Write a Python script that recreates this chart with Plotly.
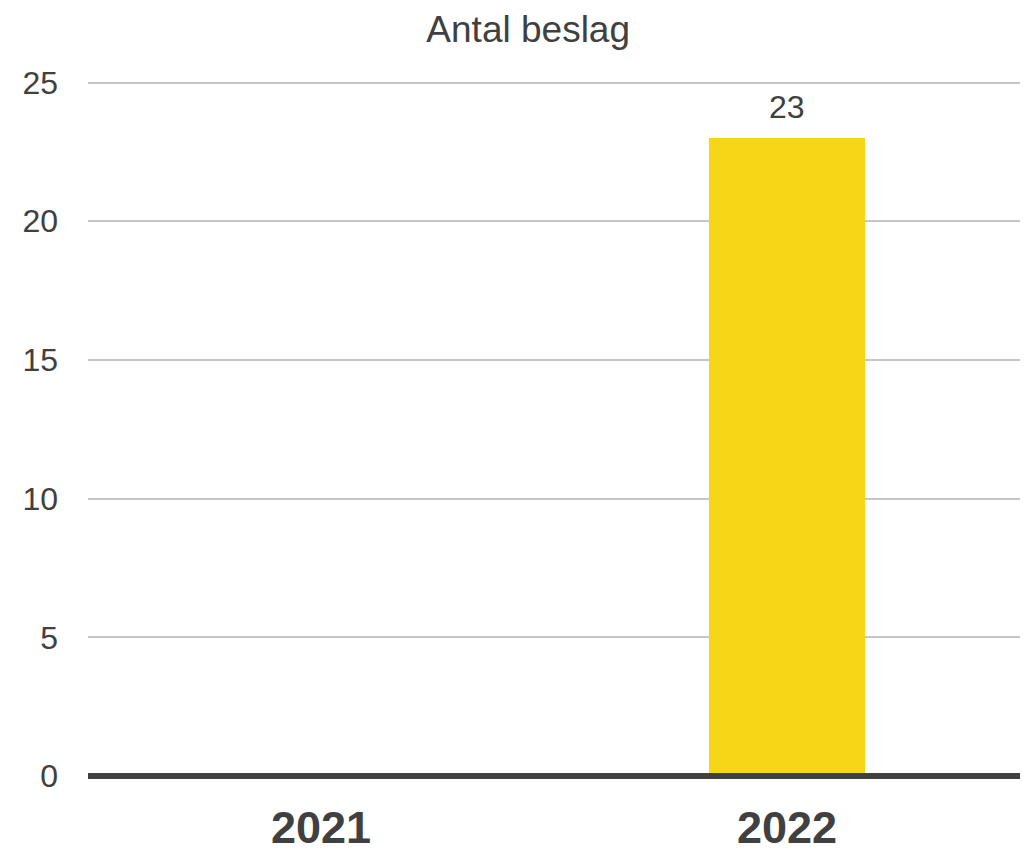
import plotly.graph_objects as go

categories = ["2021", "2022"]
values = [0, 23]
y_ticks = [0, 5, 10, 15, 20, 25]

FONT = "Liberation Sans, Arial, sans-serif"
TXT = "#404040"

fig = go.Figure()
fig.add_trace(go.Bar(
    x=categories, y=values,
    marker=dict(color="#F7D517", line=dict(width=0)),
    cliponaxis=False,
))
for i, v in enumerate(values):
    if v:
        fig.add_annotation(x=i, y=v, xref="x", yref="y", text=str(v), showarrow=False,
                           yanchor="bottom", yshift=11,
                           font=dict(family=FONT, size=32, color=TXT))
# page has an 8px body margin, so the figure is 1020x845 placed at (8, 8)
fig.update_layout(
    width=1020, height=845,
    margin=dict(l=80, r=8, t=69, b=77),
    paper_bgcolor="white", plot_bgcolor="white",
    bargap=0.665,
    showlegend=False,
    title=dict(text="Antal beslag", x=0.51, xanchor="center", y=0.975, yanchor="middle",
               font=dict(family=FONT, size=37, color=TXT)),
    font=dict(family=FONT, color=TXT),
)
fig.update_yaxes(range=[0, 25.2], tickvals=y_ticks, showgrid=True, gridcolor="#C6C6C6", gridwidth=2,
                 zeroline=False, showline=False, ticks="", automargin=False,
                 tickfont=dict(size=32, color=TXT), ticklabelstandoff=29)
fig.update_xaxes(type="category", range=[-0.5, len(categories) - 0.5],
                 showgrid=False, zeroline=False, showline=False, ticks="",
                 automargin=False,
                 tickfont=dict(size=45, color=TXT, weight="bold"), ticklabelstandoff=21)
fig.add_shape(type="line", xref="paper", yref="paper", x0=0, x1=1, y0=0, y1=0,
              line=dict(color=TXT, width=6), layer="above")
fig.write_html("out.html")
